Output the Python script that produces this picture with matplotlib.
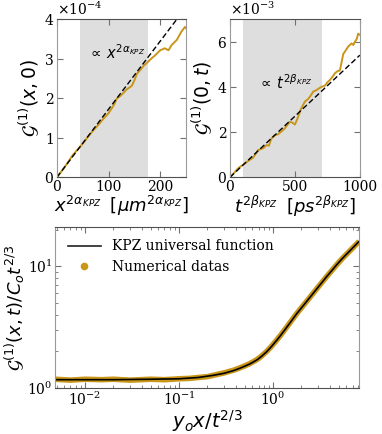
import matplotlib
matplotlib.use('Agg')
import matplotlib.pyplot as plt
from matplotlib.lines import Line2D
from matplotlib.ticker import ScalarFormatter

plt.rcParams['font.family'] = 'DejaVu Serif'
plt.rcParams['mathtext.fontset'] = 'dejavusans'

ORANGE = '#C9961A'
SHADE = '#DEDEDE'

# haut gauche : G1(x,0) en fonction de x^(2 alpha)
x_esp = [0, 10, 20, 30, 40, 50, 60, 70, 80, 90, 100, 110, 116, 125, 135, 145, 150,
         155, 162, 168, 175, 181, 190, 200, 209, 216, 222, 232, 241, 248, 250]
g_esp = [0.0, 0.17, 0.35, 0.55, 0.70, 0.85, 1.02, 1.18, 1.32, 1.48, 1.62, 1.82, 1.99,
         2.08, 2.22, 2.31, 2.45, 2.62, 2.72, 2.82, 2.90, 2.98, 3.08, 3.21, 3.26, 3.21,
         3.34, 3.47, 3.68, 3.80, 3.77]
fit_esp_x = [0, 250]
fit_esp_y = [0.0, 4.3]
zone_esp = [45, 176]

# haut droite : G1(0,t) en fonction de t^(2 beta)
t_tps = [0, 20, 40, 60, 80, 100, 130, 160, 177, 200, 215, 240, 260, 280, 300, 318, 344,
         370, 395, 420, 440, 460, 480, 500, 520, 545, 577, 600, 620, 641, 667, 690, 705,
         731, 750, 769, 790, 808, 830, 846, 860, 872, 890, 910, 936, 950, 962, 975, 987, 1000]
g_tps = [0.0, 0.12, 0.25, 0.38, 0.47, 0.55, 0.68, 0.80, 0.86, 1.05, 1.20, 1.25, 1.30,
         1.42, 1.40, 1.70, 1.86, 1.90, 2.02, 2.15, 2.30, 2.45, 2.42, 2.33, 2.60, 3.00,
         3.35, 3.45, 3.60, 3.79, 3.86, 3.95, 4.00, 4.05, 4.20, 4.30, 4.45, 4.60, 4.70,
         4.72, 5.10, 5.45, 5.60, 5.78, 5.92, 5.85, 6.00, 6.10, 6.35, 6.30]
fit_tps_x = [0, 1000]
fit_tps_y = [0.0, 5.4]
zone_tps = [100, 705]

# bas : fonction universelle KPZ
x_kpz = [0.0048, 0.01, 0.02, 0.05, 0.1, 0.16, 0.23, 0.3, 0.38, 0.44, 0.5, 0.56, 0.62,
         0.68, 0.76, 0.85, 0.95, 1.09, 1.2, 1.33, 1.5, 1.77, 2.0, 2.3, 2.6, 2.9, 3.3,
         3.7, 4.2, 4.75, 5.4, 6.0, 7.0, 8.2]
y_kpz = [1.17, 1.17, 1.17, 1.18, 1.19, 1.22, 1.27, 1.32, 1.39, 1.45, 1.51, 1.57, 1.64,
         1.71, 1.83, 1.98, 2.17, 2.46, 2.70, 3.0, 3.4, 4.05, 4.55, 5.2, 5.85, 6.5, 7.35,
         8.2, 9.2, 10.3, 11.5, 12.5, 14.1, 16.0]
x_num = [0.0048, 0.007, 0.01, 0.015, 0.02, 0.03, 0.05, 0.07, 0.1, 0.13, 0.16, 0.2,
         0.23, 0.3, 0.38, 0.44, 0.5, 0.56, 0.62, 0.68, 0.76, 0.85, 0.95, 1.09, 1.2,
         1.33, 1.5, 1.77, 2.0, 2.3, 2.6, 2.9, 3.3, 3.7, 4.2, 4.75, 5.4, 6.0, 7.0, 8.2]
y_num = [1.18, 1.16, 1.18, 1.17, 1.18, 1.16, 1.18, 1.17, 1.19, 1.20, 1.22, 1.24,
         1.27, 1.33, 1.40, 1.46, 1.52, 1.58, 1.65, 1.72, 1.84, 1.99, 2.18, 2.47, 2.71,
         3.01, 3.41, 4.06, 4.56, 5.21, 5.86, 6.51, 7.36, 8.21, 9.21, 10.3, 11.5, 12.5,
         14.1, 16.0]


def style_axes(ax):
    for side in ['left', 'right']:
        ax.spines[side].set_color('#9a9a9a')
    for side in ['top', 'bottom']:
        ax.spines[side].set_color('#505050')
    ax.tick_params(direction='in', top=True, right=True, labelsize=10,
                   color='#707070', length=4, pad=2)
    ax.tick_params(which='minor', direction='in', top=True, right=True,
                   color='#707070', length=2)


fig = plt.figure(figsize=(3.82, 4.34), dpi=100)

# --- panneau haut gauche
ax1 = fig.add_axes([0.149, 0.5915, 0.338, 0.3647])
ax1.axvspan(zone_esp[0], zone_esp[1], color=SHADE, lw=0)
ax1.plot(x_esp, [v * 1e-4 for v in g_esp], color=ORANGE, lw=1.4)
ax1.plot(fit_esp_x, [v * 1e-4 for v in fit_esp_y], 'k--', lw=1, dashes=(4, 2))
ax1.set_xlim(0, 250)
ax1.set_ylim(0, 4e-4)
ax1.set_xticks([0, 100, 200])
ax1.set_yticks([0, 1e-4, 2e-4, 3e-4, 4e-4])
fmt = ScalarFormatter(useMathText=True)
fmt.set_powerlimits((0, 0))
ax1.yaxis.set_major_formatter(fmt)
ax1.yaxis.get_offset_text().set_fontsize(10)
ax1.text(116, 3.14e-4, r'$\propto\, x^{2\alpha_{KPZ}}$', fontsize=10.5, ha='center', va='center')
ax1.set_xlabel(r'$x^{2\alpha_{KPZ}}\;\;[\mu m^{2\alpha_{KPZ}}]$', fontsize=13, labelpad=0)
ax1.set_ylabel(r'$\mathcal{G}^{(1)}(x,0)$', fontsize=13.5, labelpad=2)
style_axes(ax1)

# --- panneau haut droite
ax2 = fig.add_axes([0.602, 0.5915, 0.340, 0.3647])
ax2.axvspan(zone_tps[0], zone_tps[1], color=SHADE, lw=0)
ax2.plot(t_tps, [v * 1e-3 for v in g_tps], color=ORANGE, lw=1.4)
ax2.plot(fit_tps_x, [v * 1e-3 for v in fit_tps_y], 'k--', lw=1, dashes=(4, 2))
ax2.set_xlim(0, 1000)
ax2.set_ylim(0, 7e-3)
ax2.set_xticks([0, 500, 1000])
ax2.set_yticks([0, 2e-3, 4e-3, 6e-3])
fmt2 = ScalarFormatter(useMathText=True)
fmt2.set_powerlimits((0, 0))
ax2.yaxis.set_major_formatter(fmt2)
ax2.yaxis.get_offset_text().set_fontsize(10)
ax2.text(423, 4.2e-3, r'$\propto\, t^{2\beta_{KPZ}}$', fontsize=10.5, ha='center', va='center')
ax2.set_xlabel(r'$t^{2\beta_{KPZ}}\;\;[ps^{2\beta_{KPZ}}]$', fontsize=13, labelpad=0)
ax2.set_ylabel(r'$\mathcal{G}^{(1)}(0,t)$', fontsize=13.5, labelpad=2)
style_axes(ax2)

# --- panneau bas
ax3 = fig.add_axes([0.144, 0.106, 0.796, 0.371])
ax3.plot(x_num, y_num, color=ORANGE, lw=4, solid_capstyle='butt')
ax3.plot(x_kpz, y_kpz, color='black', lw=1.2)
ax3.set_xscale('log')
ax3.set_yscale('log')
ax3.set_xlim(0.0048, 8.2)
ax3.set_ylim(1.0, 21)
ax3.set_xlabel(r'$y_o x/t^{2/3}$', fontsize=14, labelpad=0)
ax3.set_ylabel(r'$\mathcal{G}^{(1)}(x,t)/C_o t^{2/3}$', fontsize=13, labelpad=0)
style_axes(ax3)
handles = [Line2D([], [], color='#222222', lw=1.2),
           Line2D([], [], color=ORANGE, marker='o', ls='none', ms=4.5)]
ax3.legend(handles, ['KPZ universal function', 'Numerical datas'], loc='upper left',
           frameon=False, fontsize=10, handlelength=2.4, borderaxespad=0.5,
           labelspacing=0.45)

fig.savefig('out.png', dpi=100)
